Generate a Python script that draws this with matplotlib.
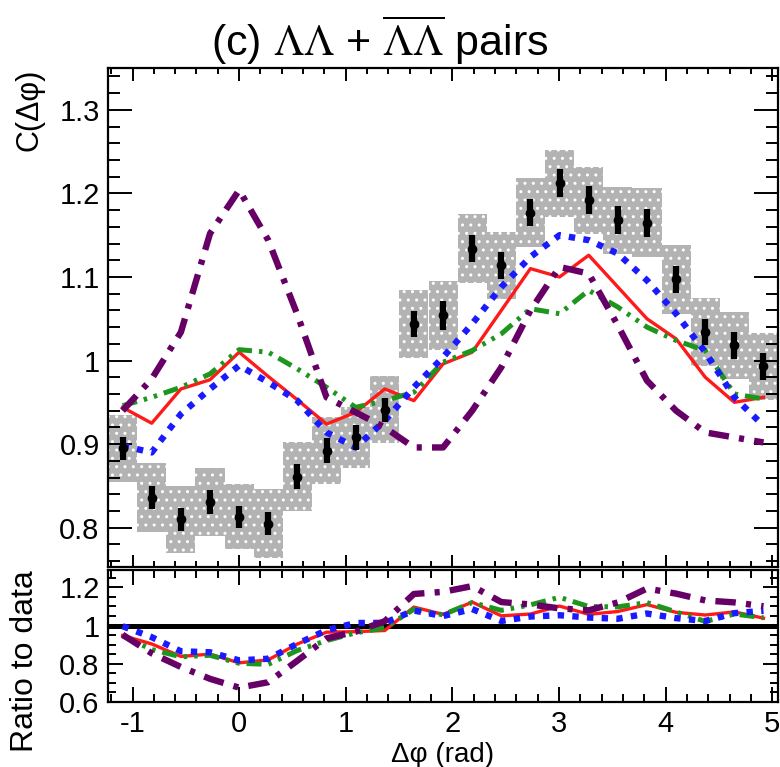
import numpy as np
import matplotlib
matplotlib.use("Agg")
import matplotlib.pyplot as plt
from matplotlib.ticker import MultipleLocator, FuncFormatter

plt.rcParams['font.family'] = ['Liberation Sans', 'DejaVu Sans']
plt.rcParams['mathtext.fontset'] = 'stix'
plt.rcParams['hatch.linewidth'] = 1.0

# bin centres in delta-phi (rad), 23 bins over 2 pi
dphi = [-1.093, -0.820, -0.546, -0.273, 0.000, 0.273, 0.546, 0.820,
        1.093, 1.366, 1.639, 1.913, 2.186, 2.459, 2.732, 3.005,
        3.279, 3.552, 3.825, 4.098, 4.372, 4.645, 4.918]

# measured correlation function
data_c = [0.895, 0.836, 0.810, 0.831, 0.813, 0.805, 0.861, 0.892,
          0.908, 0.941, 1.044, 1.054, 1.134, 1.114, 1.177, 1.212,
          1.192, 1.168, 1.165, 1.097, 1.034, 1.018, 0.993]
stat_err = [0.014, 0.0135, 0.014, 0.0145, 0.013, 0.014, 0.015, 0.015,
            0.015, 0.014, 0.0155, 0.017, 0.0165, 0.016, 0.016, 0.0168,
            0.017, 0.017, 0.0166, 0.0166, 0.0154, 0.016, 0.016]
syst_err = [0.040, 0.041, 0.040, 0.041, 0.039, 0.041, 0.041, 0.040,
            0.036, 0.040, 0.041, 0.041, 0.041, 0.040, 0.041, 0.040,
            0.040, 0.040, 0.041, 0.041, 0.041, 0.040, 0.040]

# model curves
model_red = [0.944, 0.925, 0.966, 0.977, 1.010, 0.981, 0.953, 0.924,
             0.938, 0.966, 0.952, 0.996, 1.010, 1.060, 1.110, 1.100,
             1.126, 1.088, 1.050, 1.026, 0.980, 0.950, 0.956]
model_blue = [0.898, 0.890, 0.936, 0.966, 0.994, 0.974, 0.952, 0.914,
              0.896, 0.928, 0.968, 1.004, 1.044, 1.088, 1.124, 1.150,
              1.144, 1.128, 1.096, 1.056, 1.010, 0.956, 0.922]
model_green = [0.946, 0.956, 0.968, 0.984, 1.013, 1.010, 0.990, 0.968,
               0.944, 0.952, 0.962, 0.998, 1.012, 1.032, 1.062, 1.056,
               1.084, 1.064, 1.040, 1.024, 1.012, 0.960, 0.954]
model_purple = [0.940, 0.978, 1.034, 1.152, 1.204, 1.144, 1.055, 0.956,
                0.938, 0.920, 0.896, 0.896, 0.940, 0.992, 1.060, 1.112,
                1.104, 1.042, 0.976, 0.940, 0.914, 0.908, 0.902]

x = np.array(dphi)
c = np.array(data_c)
bin_w = x[1] - x[0]
x_range = (x[0] - bin_w / 2, x[-1] + bin_w / 2)

styles = [
    (model_red, dict(color='#ff1a1a', lw=2.4, ls='-')),
    (model_green, dict(color='#1e961e', lw=3.6, ls=(0, (3.0, 1.4, 0.7, 1.4, 0.7, 1.4)))),
    (model_blue, dict(color='#1a1aff', lw=4.6, ls=(0, (1.0, 1.3)))),
    (model_purple, dict(color='#660066', lw=4.6, ls=(0, (3.2, 1.6, 0.8, 1.6)))),
]


def style_axis(ax, xmaj_len, ymaj_len):
    ax.tick_params(which='both', direction='in', top=True, right=True,
                   width=1.4, labelsize=21, pad=6)
    ax.tick_params(axis='x', which='major', length=xmaj_len)
    ax.tick_params(axis='x', which='minor', length=xmaj_len * 0.5)
    ax.tick_params(axis='y', which='major', length=ymaj_len)
    ax.tick_params(axis='y', which='minor', length=ymaj_len * 0.5)
    for s in ax.spines.values():
        s.set_linewidth(1.6)
    ax.xaxis.set_major_locator(MultipleLocator(1))
    ax.xaxis.set_minor_locator(MultipleLocator(0.2))


fmt = FuncFormatter(lambda v, p: f"{v:g}")

fig = plt.figure(figsize=(7.8, 7.67), dpi=100)
ax = fig.add_axes([0.1385, 0.2608, 0.859, 0.6505])
axr = fig.add_axes([0.1385, 0.0847, 0.859, 0.172])

# systematic boxes
ax.bar(x, 2 * np.array(syst_err), bottom=c - np.array(syst_err), width=bin_w,
       color='#b3b3b3', edgecolor='white', hatch='..', linewidth=0, zorder=1)

for vals, st in styles:
    ax.plot(x, vals, dash_capstyle='butt', zorder=3, **st)
    axr.plot(x, c / np.array(vals), dash_capstyle='butt', zorder=3, **st)

ax.errorbar(x, c, yerr=stat_err, fmt='o', color='black', ms=6,
            elinewidth=4.5, capsize=0, zorder=4)

ax.set_xlim(*x_range)
ax.set_ylim(0.753, 1.35)
style_axis(ax, 9, 17)
ax.yaxis.set_major_locator(MultipleLocator(0.1))
ax.yaxis.set_minor_locator(MultipleLocator(0.02))
ax.yaxis.set_major_formatter(fmt)
ax.tick_params(labelbottom=False)

axr.axhline(1.0, color='black', lw=3.6, zorder=2)
axr.set_xlim(*x_range)
axr.set_ylim(0.6, 1.29)
style_axis(axr, 11, 11)
axr.yaxis.set_major_locator(MultipleLocator(0.2))
axr.yaxis.set_minor_locator(MultipleLocator(0.05))
axr.yaxis.set_major_formatter(fmt)
axr.xaxis.set_major_formatter(fmt)

fig.text(0.487, 0.948, r"(c) $\Lambda\Lambda$ + $\overline{\Lambda\Lambda}$ pairs",
         ha='center', va='center', fontsize=31)
fig.text(0.038, 0.911, "C(Δφ)", rotation=90, ha='center', va='top', fontsize=22)
fig.text(0.032, 0.138, "Ratio to data", rotation=90, ha='center', va='center', fontsize=23)
fig.text(0.568, 0.016, "Δφ (rad)", ha='center', va='center', fontsize=20)

fig.savefig('out.png', dpi=100)
